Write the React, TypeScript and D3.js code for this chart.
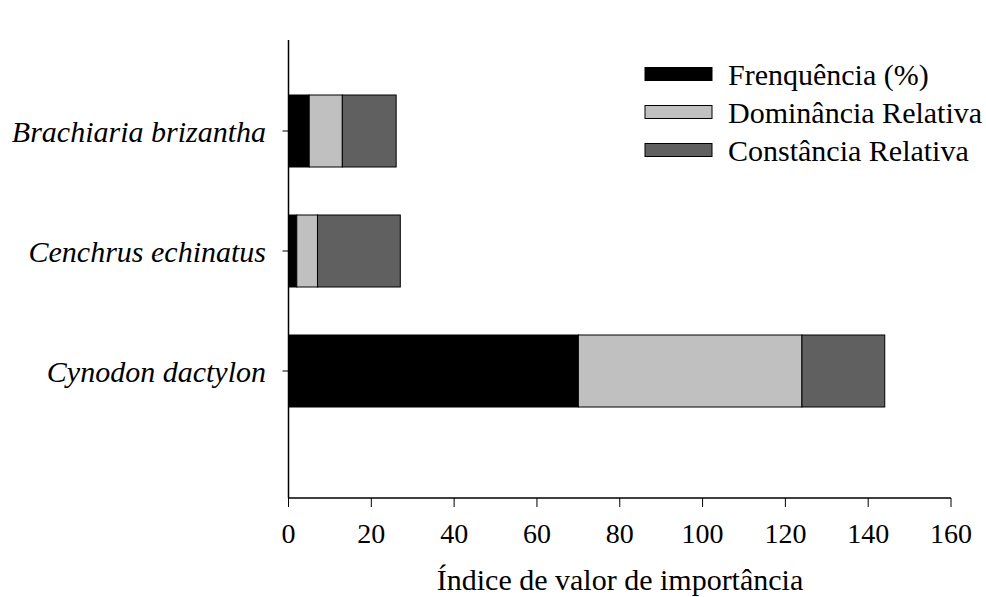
import React from "react";
import * as d3 from "d3";

const species = ["Brachiaria brizantha", "Cenchrus echinatus", "Cynodon dactylon"];
const frequencia = [5, 2, 70];
const dominancia = [8, 5, 54];
const constancia = [13, 20, 20];
const seriesNames = ["Frenquência (%)", "Dominância Relativa", "Constância Relativa"];
const seriesColors = ["#000000", "#c0c0c0", "#606060"];
const xTicks = [0, 20, 40, 60, 80, 100, 120, 140, 160];

const W = 986;
const H = 597;
const FONT = "'Liberation Serif', 'Times New Roman', serif";

export default function App() {
  const x = d3.scaleLinear().domain([0, 160]).range([288.5, 951]);
  const y = d3.scaleBand<string>().domain(species).range([71, 431]).paddingInner(0.4).paddingOuter(0.2);

  const rows = species.map((s, i) => ({
    species: s,
    Frenquencia: frequencia[i],
    Dominancia: dominancia[i],
    Constancia: constancia[i],
  }));
  const keys = ["Frenquencia", "Dominancia", "Constancia"];
  const stacked = d3.stack<any>().keys(keys)(rows);

  const axisY = 498;
  const axisTop = 40;

  return (
    <svg width={W} height={H} style={{ position: "absolute", left: 0, top: 0, background: "#fff" }}>
      <rect x={0} y={0} width={W} height={H} fill="#fff" />
      {stacked.map((layer, li) =>
        layer.map((d, i) => (
          <rect
            key={`${li}-${i}`}
            x={x(d[0])}
            y={y(species[i])!}
            width={x(d[1]) - x(d[0])}
            height={y.bandwidth()}
            fill={seriesColors[li]}
            stroke="#000"
            strokeWidth={1}
          />
        ))
      )}
      {/* y axis */}
      <line x1={x(0)} x2={x(0)} y1={axisTop} y2={axisY} stroke="#000" strokeWidth={1.5} />
      {species.map((s) => {
        const cy = y(s)! + y.bandwidth() / 2;
        return (
          <g key={s}>
            <line x1={x(0) - 6} x2={x(0)} y1={cy} y2={cy} stroke="#000" strokeWidth={1} />
            <text
              x={266}
              y={cy}
              textAnchor="end"
              dominantBaseline="central"
              fontFamily={FONT}
              fontStyle="italic"
              fontSize={30}
              fill="#000"
            >
              {s}
            </text>
          </g>
        );
      })}
      {/* x axis */}
      <line x1={x(0)} x2={x(160)} y1={axisY} y2={axisY} stroke="#000" strokeWidth={1.5} />
      {xTicks.map((t) => (
        <g key={t}>
          <line x1={x(t)} x2={x(t)} y1={axisY} y2={axisY + 9} stroke="#000" strokeWidth={1} />
          <text
            x={x(t)}
            y={543}
            textAnchor="middle"
            fontFamily={FONT}
            fontSize={28}
            fill="#000"
          >
            {t}
          </text>
        </g>
      ))}
      <text x={620} y={590} textAnchor="middle" fontFamily={FONT} fontSize={30} fill="#000">
        Índice de valor de importância
      </text>
      {/* legend */}
      {seriesNames.map((n, i) => {
        const ly = 74 + i * 38;
        return (
          <g key={n}>
            <rect x={645} y={ly - 6.5} width={67} height={13} fill={seriesColors[i]} stroke="#000" strokeWidth={1} />
            <text x={728} y={ly} dominantBaseline="central" fontFamily={FONT} fontSize={30} fill="#000">
              {n}
            </text>
          </g>
        );
      })}
    </svg>
  );
}
